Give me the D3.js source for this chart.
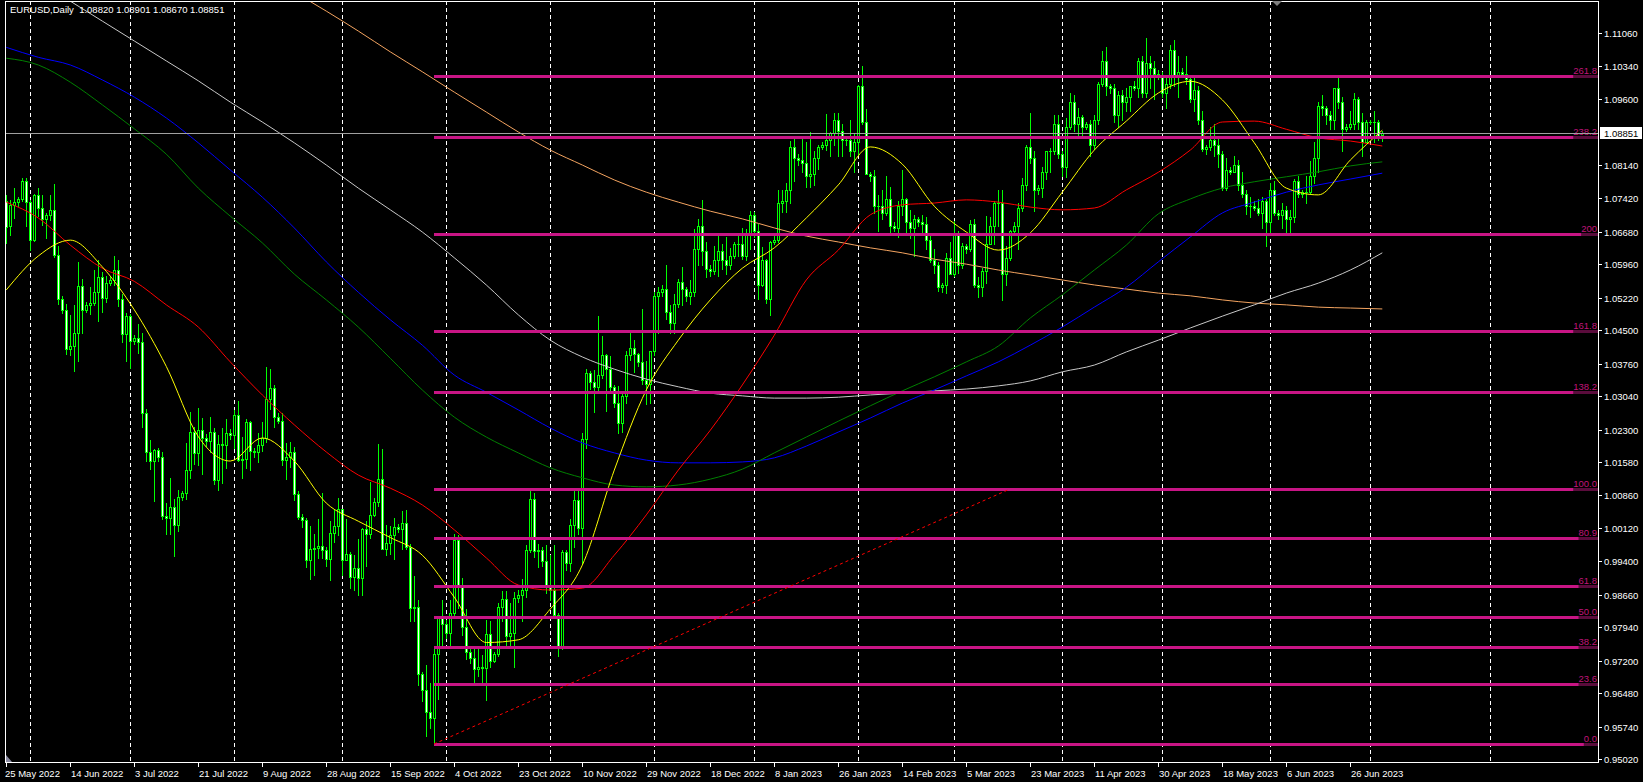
<!DOCTYPE html>
<html>
<head>
<meta charset="utf-8">
<script src="https://cdn.jsdelivr.net/npm/d3@7"></script>
<style>
html, body { margin: 0; padding: 0; background: #000; }
svg { display: block; }
text { font-family: "Liberation Sans", Arial, sans-serif; font-size: 9.5px; }
</style>
</head>
<body>
<svg id="chart" width="1643" height="782"></svg>
<script>
// EURUSD daily chart, 25 May 2022 - 5 Jul 2023 (broker feed with short Sunday bars)
const chartTitle = "EURUSD,Daily  1.08820 1.08901 1.08670 1.08851";
const firstDay = "2022-05-25", lastDay = "2023-07-05", axisEndDay = "2023-08-10";
const missingDays = ["2022-06-05", "2022-12-25", "2023-01-01", "2023-06-18"];

// [open, high, low, close], one line per week
const bars = [
  [1.0735,1.0749,1.0642,1.0679],[1.0680,1.0738,1.0661,1.0727],[1.0727,1.0765,1.0699,1.0733],
  [1.0733,1.0744,1.0725,1.0740],[1.0740,1.0787,1.0736,1.0779],[1.0779,1.0786,1.0681,1.0733],[1.0733,1.0737,1.0627,1.0650],[1.0650,1.0750,1.0648,1.0749],[1.0749,1.0764,1.0703,1.0719],
  [1.0719,1.0749,1.0683,1.0696],[1.0696,1.0710,1.0653,1.0704],[1.0704,1.0749,1.0693,1.0715],[1.0715,1.0773,1.0612,1.0616],[1.0616,1.0635,1.0507,1.0519],
  [1.0519,1.0525,1.0487,1.0495],[1.0495,1.0509,1.0398,1.0409],[1.0409,1.0484,1.0396,1.0415],[1.0415,1.0505,1.0359,1.0444],[1.0444,1.0601,1.0382,1.0547],[1.0547,1.0564,1.0444,1.0495],
  [1.0495,1.0512,1.0490,1.0505],[1.0505,1.0545,1.0485,1.0510],[1.0510,1.0583,1.0505,1.0535],[1.0535,1.0606,1.0470,1.0567],[1.0567,1.0579,1.0490,1.0521],[1.0521,1.0570,1.0512,1.0554],
  [1.0554,1.0570,1.0550,1.0562],[1.0562,1.0615,1.0549,1.0583],[1.0583,1.0606,1.0503,1.0518],[1.0518,1.0530,1.0423,1.0442],[1.0442,1.0488,1.0382,1.0482],[1.0482,1.0486,1.0366,1.0426],
  [1.0426,1.0440,1.0420,1.0432],[1.0432,1.0463,1.0399,1.0424],[1.0424,1.0443,1.0236,1.0266],[1.0266,1.0277,1.0161,1.0182],[1.0182,1.0208,1.0144,1.0162],[1.0162,1.0188,1.0072,1.0185],
  [1.0185,1.0189,1.0160,1.0170],[1.0170,1.0180,1.0033,1.0039],[1.0039,1.0069,0.9999,1.0035],[1.0035,1.0123,0.9999,1.0059],[1.0059,1.0077,0.9952,1.0019],[1.0019,1.0097,1.0006,1.0082],
  [1.0082,1.0095,1.0075,1.0090],[1.0090,1.0200,1.0076,1.0141],[1.0141,1.0269,1.0124,1.0226],[1.0226,1.0236,1.0155,1.0179],[1.0179,1.0278,1.0153,1.0229],[1.0229,1.0256,1.0132,1.0212],
  [1.0212,1.0220,1.0195,1.0205],[1.0205,1.0258,1.0180,1.0225],[1.0225,1.0234,1.0111,1.0120],[1.0120,1.0218,1.0096,1.0199],[1.0199,1.0235,1.0113,1.0197],[1.0197,1.0254,1.0145,1.0224],
  [1.0224,1.0232,1.0210,1.0218],[1.0218,1.0274,1.0190,1.0262],[1.0262,1.0294,1.0162,1.0163],[1.0163,1.0213,1.0123,1.0165],[1.0165,1.0254,1.0146,1.0247],[1.0247,1.0249,1.0141,1.0183],
  [1.0183,1.0190,1.0170,1.0180],[1.0180,1.0223,1.0158,1.0196],[1.0196,1.0248,1.0184,1.0212],[1.0212,1.0368,1.0202,1.0298],[1.0298,1.0364,1.0276,1.0322],[1.0322,1.0329,1.0236,1.0259],
  [1.0259,1.0268,1.0245,1.0250],[1.0250,1.0267,1.0152,1.0163],[1.0163,1.0201,1.0122,1.0170],[1.0170,1.0202,1.0148,1.0181],[1.0181,1.0191,1.0075,1.0088],[1.0088,1.0095,1.0032,1.0037],
  [1.0037,1.0045,1.0015,1.0030],[1.0030,1.0035,0.9926,0.9943],[0.9943,1.0017,0.9901,0.9967],[0.9967,0.9999,0.9909,0.9968],[0.9968,1.0033,0.9947,0.9974],[0.9974,1.0090,0.9947,0.9964],
  [0.9964,0.9970,0.9930,0.9945],[0.9945,1.0028,0.9899,1.0003],[1.0003,1.0055,0.9981,1.0017],[1.0017,1.0079,0.9997,1.0054],[1.0054,1.0055,0.9910,0.9943],[0.9943,1.0033,0.9942,0.9955],
  [0.9955,0.9960,0.9880,0.9905],[0.9905,0.9954,0.9877,0.9925],[0.9925,0.9988,0.9864,0.9902],[0.9902,1.0012,0.9864,1.0010],[1.0010,1.0029,0.9929,1.0000],[1.0000,1.0114,0.9990,1.0041],
  [1.0041,1.0080,1.0040,1.0070],[1.0070,1.0198,1.0061,1.0121],[1.0121,1.0187,0.9966,0.9967],[0.9967,1.0020,0.9954,0.9980],[0.9980,1.0017,0.9955,0.9998],[0.9998,1.0036,0.9945,1.0015],
  [1.0015,1.0022,1.0005,1.0010],[1.0010,1.0050,0.9966,1.0025],[1.0025,1.0052,0.9966,0.9971],[0.9971,0.9977,0.9807,0.9836],[0.9836,0.9908,0.9808,0.9838],[0.9838,0.9853,0.9667,0.9690],
  [0.9690,0.9695,0.9630,0.9655],[0.9655,0.9710,0.9553,0.9606],[0.9606,0.9671,0.9571,0.9593],[0.9593,0.9748,0.9536,0.9735],[0.9735,0.9815,0.9636,0.9815],[0.9815,0.9854,0.9748,0.9802],
  [0.9802,0.9810,0.9770,0.9780],[0.9780,0.9853,0.9750,0.9825],[0.9825,0.9999,0.9815,0.9986],[0.9986,0.9998,0.9836,0.9883],[0.9883,0.9903,0.9776,0.9794],[0.9794,0.9835,0.9723,0.9740],
  [0.9740,0.9745,0.9715,0.9725],[0.9725,0.9750,0.9670,0.9701],[0.9701,0.9752,0.9685,0.9706],[0.9706,0.9733,0.9668,0.9703],[0.9703,0.9810,0.9632,0.9779],[0.9779,0.9807,0.9707,0.9720],
  [0.9720,0.9740,0.9718,0.9735],[0.9735,0.9848,0.9731,0.9839],[0.9839,0.9874,0.9808,0.9857],[0.9857,0.9873,0.9755,0.9774],[0.9774,0.9847,0.9752,0.9781],[0.9781,0.9871,0.9705,0.9858],
  [0.9858,0.9875,0.9850,0.9865],[0.9865,0.9900,0.9808,0.9876],[0.9876,0.9976,0.9860,0.9965],[0.9965,1.0094,0.9961,1.0078],[1.0078,1.0090,0.9950,0.9963],[0.9963,0.9977,0.9927,0.9965],
  [0.9965,0.9970,0.9930,0.9940],[0.9940,0.9976,0.9870,0.9883],[0.9883,0.9954,0.9855,0.9875],[0.9875,0.9976,0.9815,0.9820],[0.9820,0.9825,0.9730,0.9750],[0.9750,0.9965,0.9745,0.9960],
  [0.9960,0.9965,0.9920,0.9935],[0.9935,1.0034,0.9919,1.0020],[1.0020,1.0094,0.9971,1.0074],[1.0074,1.0096,1.0000,1.0012],[1.0012,1.0222,0.9935,1.0209],[1.0209,1.0364,1.0190,1.0356],
  [1.0356,1.0360,1.0320,1.0335],[1.0335,1.0362,1.0270,1.0325],[1.0325,1.0481,1.0315,1.0350],[1.0350,1.0438,1.0345,1.0395],[1.0395,1.0398,1.0272,1.0364],[1.0364,1.0393,1.0315,1.0325],
  [1.0325,1.0330,1.0280,1.0290],[1.0290,1.0327,1.0223,1.0244],[1.0244,1.0310,1.0226,1.0305],[1.0305,1.0403,1.0289,1.0396],[1.0396,1.0448,1.0385,1.0410],[1.0410,1.0429,1.0358,1.0398],
  [1.0398,1.0400,1.0370,1.0380],[1.0380,1.0497,1.0332,1.0340],[1.0340,1.0381,1.0288,1.0331],[1.0331,1.0405,1.0290,1.0405],[1.0405,1.0534,1.0395,1.0525],[1.0525,1.0545,1.0444,1.0535],
  [1.0535,1.0550,1.0525,1.0540],[1.0540,1.0595,1.0475,1.0490],[1.0490,1.0505,1.0443,1.0466],[1.0466,1.0531,1.0443,1.0507],[1.0507,1.0564,1.0501,1.0556],[1.0556,1.0589,1.0505,1.0540],
  [1.0540,1.0545,1.0515,1.0525],[1.0525,1.0560,1.0509,1.0535],[1.0535,1.0674,1.0525,1.0630],[1.0630,1.0695,1.0595,1.0680],[1.0680,1.0737,1.0595,1.0625],[1.0625,1.0646,1.0568,1.0585],
  [1.0585,1.0595,1.0570,1.0580],[1.0580,1.0636,1.0575,1.0605],[1.0605,1.0659,1.0570,1.0625],[1.0625,1.0640,1.0586,1.0605],[1.0605,1.0657,1.0574,1.0595],[1.0595,1.0632,1.0585,1.0615],
  [1.0615,1.0645,1.0610,1.0640],[1.0640,1.0660,1.0613,1.0640],[1.0640,1.0675,1.0608,1.0613],[1.0613,1.0673,1.0606,1.0660],[1.0660,1.0713,1.0630,1.0705],
  [1.0705,1.0712,1.0655,1.0670],[1.0670,1.0684,1.0520,1.0550],[1.0550,1.0634,1.0547,1.0605],[1.0605,1.0607,1.0510,1.0520],[1.0520,1.0647,1.0483,1.0645],
  [1.0645,1.0660,1.0640,1.0650],[1.0650,1.0760,1.0645,1.0730],[1.0730,1.0760,1.0712,1.0735],[1.0735,1.0776,1.0712,1.0760],[1.0760,1.0868,1.0730,1.0855],[1.0855,1.0875,1.0780,1.0830],
  [1.0830,1.0840,1.0815,1.0825],[1.0825,1.0873,1.0800,1.0820],[1.0820,1.0866,1.0766,1.0790],[1.0790,1.0887,1.0766,1.0795],[1.0795,1.0845,1.0770,1.0830],[1.0830,1.0860,1.0806,1.0855],
  [1.0855,1.0865,1.0850,1.0860],[1.0860,1.0927,1.0848,1.0870],[1.0870,1.0888,1.0835,1.0885],[1.0885,1.0929,1.0860,1.0915],[1.0915,1.0930,1.0835,1.0890],[1.0890,1.0905,1.0836,1.0870],
  [1.0870,1.0880,1.0860,1.0870],[1.0870,1.0914,1.0835,1.0845],[1.0845,1.0883,1.0800,1.0865],[1.0865,1.0992,1.0837,1.0990],[1.0990,1.1033,1.0905,1.0910],[1.0910,1.0938,1.0795,1.0795],
  [1.0795,1.0800,1.0780,1.0790],[1.0790,1.0805,1.0709,1.0725],[1.0725,1.0748,1.0670,1.0725],[1.0725,1.0760,1.0696,1.0710],[1.0710,1.0790,1.0705,1.0740],[1.0740,1.0766,1.0660,1.0680],
  [1.0680,1.0690,1.0670,1.0675],[1.0675,1.0735,1.0655,1.0725],[1.0725,1.0805,1.0705,1.0740],[1.0740,1.0743,1.0660,1.0690],[1.0690,1.0715,1.0653,1.0675],[1.0675,1.0705,1.0613,1.0695],
  [1.0695,1.0700,1.0680,1.0690],[1.0690,1.0705,1.0660,1.0685],[1.0685,1.0700,1.0630,1.0650],[1.0650,1.0663,1.0600,1.0605],[1.0605,1.0630,1.0577,1.0595],[1.0595,1.0601,1.0536,1.0545],
  [1.0545,1.0555,1.0535,1.0550],[1.0550,1.0621,1.0533,1.0610],[1.0610,1.0645,1.0574,1.0575],[1.0575,1.0691,1.0570,1.0665],[1.0665,1.0669,1.0577,1.0595],[1.0595,1.0643,1.0588,1.0635],
  [1.0635,1.0640,1.0620,1.0630],[1.0630,1.0694,1.0625,1.0685],[1.0685,1.0695,1.0546,1.0550],[1.0550,1.0568,1.0524,1.0545],[1.0545,1.0588,1.0526,1.0580],[1.0580,1.0702,1.0555,1.0640],
  [1.0640,1.0700,1.0640,1.0680],[1.0680,1.0736,1.0640,1.0730],[1.0730,1.0759,1.0680,1.0730],[1.0730,1.0760,1.0516,1.0575],[1.0575,1.0635,1.0550,1.0610],[1.0610,1.0672,1.0605,1.0670],
  [1.0670,1.0690,1.0660,1.0680],[1.0680,1.0730,1.0630,1.0720],[1.0720,1.0786,1.0714,1.0770],[1.0770,1.0860,1.0760,1.0855],[1.0855,1.0930,1.0820,1.0830],[1.0830,1.0846,1.0713,1.0760],
  [1.0760,1.0770,1.0750,1.0765],[1.0765,1.0810,1.0745,1.0800],[1.0800,1.0847,1.0785,1.0845],[1.0845,1.0853,1.0800,1.0845],[1.0845,1.0925,1.0840,1.0905],[1.0905,1.0925,1.0830,1.0840],
  [1.0840,1.0845,1.0790,1.0810],[1.0810,1.0918,1.0788,1.0900],[1.0900,1.0973,1.0895,1.0955],[1.0955,1.0970,1.0890,1.0905],[1.0905,1.0942,1.0880,1.0920],[1.0920,1.0925,1.0875,1.0900],
  [1.0900,1.0910,1.0895,1.0905],[1.0905,1.0915,1.0836,1.0860],[1.0860,1.0925,1.0850,1.0915],[1.0915,1.0998,1.0905,1.0995],[1.0995,1.1067,1.0990,1.1045],[1.1045,1.1075,1.0970,1.0990],
  [1.0990,1.0995,1.0975,1.0985],[1.0985,1.0995,1.0910,1.0925],[1.0925,1.0978,1.0900,1.0970],[1.0970,1.0980,1.0915,1.0955],[1.0955,1.0985,1.0935,1.0965],[1.0965,1.0990,1.0935,1.0990],
  [1.0990,1.1000,1.0980,1.0985],[1.0985,1.1051,1.0965,1.1045],[1.1045,1.1055,1.0965,1.0975],[1.0975,1.1095,1.0965,1.1040],[1.1040,1.1055,1.0985,1.1030],[1.1030,1.1045,1.0960,1.1015],
  [1.1015,1.1025,1.1005,1.1010],[1.1010,1.1020,1.0965,1.0975],[1.0975,1.1010,1.0942,1.0995],[1.0995,1.1080,1.0985,1.1070],[1.1070,1.1092,1.0990,1.1010],[1.1010,1.1055,1.0965,1.1020],
  [1.1020,1.1030,1.1010,1.1015],[1.1015,1.1055,1.0995,1.1005],[1.1005,1.1010,1.0955,1.0960],[1.0960,1.1010,1.0935,1.0980],[1.0980,1.0990,1.0905,1.0915],[1.0915,1.0935,1.0845,1.0850],
  [1.0850,1.0860,1.0840,1.0855],[1.0855,1.0900,1.0848,1.0870],[1.0870,1.0905,1.0835,1.0860],[1.0860,1.0875,1.0810,1.0840],[1.0840,1.0845,1.0760,1.0765],[1.0765,1.0830,1.0760,1.0805],
  [1.0805,1.0810,1.0795,1.0800],[1.0800,1.0835,1.0800,1.0815],[1.0815,1.0825,1.0760,1.0770],[1.0770,1.0800,1.0745,1.0750],[1.0750,1.0760,1.0707,1.0725],[1.0725,1.0745,1.0700,1.0725],
  [1.0725,1.0735,1.0715,1.0720],[1.0720,1.0740,1.0705,1.0710],[1.0710,1.0745,1.0675,1.0735],[1.0735,1.0740,1.0635,1.0690],[1.0690,1.0775,1.0665,1.0760],[1.0760,1.0780,1.0705,1.0710],
  [1.0710,1.0715,1.0695,1.0705],[1.0705,1.0730,1.0675,1.0715],[1.0715,1.0725,1.0668,1.0695],[1.0695,1.0715,1.0665,1.0700],[1.0700,1.0785,1.0690,1.0780],[1.0780,1.0790,1.0745,1.0750],
  [1.0750,1.0760,1.0745,1.0755],[1.0755,1.0790,1.0730,1.0755],[1.0755,1.0823,1.0750,1.0790],[1.0790,1.0865,1.0775,1.0830],[1.0830,1.0955,1.0800,1.0945],[1.0945,1.0970,1.0925,1.0940],
  [1.0940,1.0945,1.0905,1.0925],[1.0925,1.0935,1.0895,1.0915],[1.0915,1.0985,1.0895,1.0985],[1.0985,1.1012,1.0940,1.0955],[1.0955,1.0965,1.0845,1.0895],
  [1.0895,1.0905,1.0890,1.0900],[1.0900,1.0935,1.0895,1.0905],[1.0905,1.0975,1.0895,1.0960],[1.0960,1.0965,1.0895,1.0910],[1.0910,1.0930,1.0835,1.0865],[1.0865,1.0915,1.0865,1.0910],
  [1.0910,1.0915,1.0905,1.0910],[1.0910,1.0935,1.0865,1.0910],[1.0910,1.0915,1.0870,1.0880],[1.0882,1.0890,1.0867,1.0885]
];

// moving averages, one value every 8 bars
const maStep = 8;
const maYellow = [1.0539,1.0614,1.0649,1.0590,1.0495,1.0370,1.0215,1.0161,1.0212,1.0161,1.0068,1.0028,0.9992,0.9953,0.9860,0.9760,0.9766,0.9834,0.9931,1.0141,1.0318,1.0428,1.0517,1.0587,1.0632,1.0698,1.0771,1.0855,1.0817,1.0724,1.0667,1.0627,1.0665,1.0755,1.0848,1.0912,1.0974,1.1000,1.0959,1.0864,1.0764,1.0749,1.0826,1.0892];
const maRed = [1.0733,1.0698,1.0638,1.0587,1.0558,1.0506,1.0457,1.0380,1.0307,1.0241,1.0181,1.0130,1.0101,1.0064,1.0009,0.9947,0.9887,0.9876,0.9880,0.9953,1.0042,1.0141,1.0229,1.0329,1.0439,1.0561,1.0627,1.0705,1.0727,1.0731,1.0738,1.0733,1.0722,1.0716,1.0720,1.0760,1.0799,1.0848,1.0910,1.0912,1.0894,1.0875,1.0868,1.0857];
const maGreen = [1.1051,1.1036,1.0998,1.0948,1.0895,1.0839,1.0764,1.0702,1.0643,1.0574,1.0517,1.0457,1.0388,1.0318,1.0258,1.0214,1.0179,1.0146,1.0124,1.0108,1.0104,1.0108,1.0121,1.0143,1.0179,1.0214,1.0249,1.0283,1.0316,1.0347,1.0380,1.0415,1.0477,1.0528,1.0583,1.0638,1.0707,1.0740,1.0764,1.0778,1.0789,1.0800,1.0813,1.0822];
const maBlue = [1.1075,1.1053,1.1036,1.1003,1.0965,1.0919,1.0864,1.0804,1.0744,1.0676,1.0601,1.0534,1.0473,1.0417,1.0351,1.0313,1.0274,1.0234,1.0201,1.0179,1.0163,1.0157,1.0157,1.0159,1.0168,1.0194,1.0225,1.0256,1.0289,1.0318,1.0349,1.0380,1.0417,1.0457,1.0501,1.0545,1.0601,1.0656,1.0709,1.0733,1.0755,1.0771,1.0784,1.0797];
const whiteFrom = 16;
const maWhite = [1.1177,1.1133,1.1089,1.1045,1.1001,1.0954,1.0910,1.0864,1.0815,1.0764,1.0716,1.0667,1.0610,1.0550,1.0484,1.0428,1.0391,1.0364,1.0342,1.0325,1.0311,1.0305,1.0300,1.0300,1.0302,1.0307,1.0311,1.0316,1.0320,1.0327,1.0338,1.0358,1.0373,1.0402,1.0428,1.0455,1.0481,1.0506,1.0532,1.0554,1.0583,1.0621];
const orangeFrom = 72;
const maOrange = [1.1197,1.1155,1.1111,1.1065,1.1021,1.0976,1.0932,1.0888,1.0848,1.0815,1.0782,1.0755,1.0733,1.0713,1.0696,1.0676,1.0658,1.0645,1.0632,1.0621,1.0607,1.0596,1.0583,1.0572,1.0561,1.0550,1.0541,1.0532,1.0526,1.0517,1.0510,1.0506,1.0501,1.0499,1.0497];

// Fibonacci retracement object
const fibLow = 0.95357, fibHigh = 1.00992;
const fibStartDay = "2022-09-28", fibEndDay = "2023-03-17";
const fibLevels = [0, 23.6, 38.2, 50, 61.8, 80.9, 100, 138.2, 161.8, 200, 238.2, 261.8];
const fibLabels = ["0.0", "23.6", "38.2", "50.0", "61.8", "80.9", "100.0", "138.2", "161.8", "200", "238.2", "261.8"];

const bidPrice = 1.08851;
const priceTicks = [1.11060, 1.10340, 1.09600, 1.08140, 1.07420, 1.06680, 1.05960, 1.05220, 1.04500, 1.03760, 1.03040, 1.02300, 1.01580, 1.00860, 1.00120, 0.99400, 0.98660, 0.97940, 0.97200, 0.96480, 0.95740, 0.95020];
const timeTicks = ["2022-05-25", "2022-06-14", "2022-07-03", "2022-07-21", "2022-08-09", "2022-08-28", "2022-09-15", "2022-10-04", "2022-10-23", "2022-11-10", "2022-11-29", "2022-12-18", "2023-01-08", "2023-01-26", "2023-02-14", "2023-03-05", "2023-03-23", "2023-04-11", "2023-04-30", "2023-05-18", "2023-06-06", "2023-06-26"];


// build the bar calendar: no Saturdays, a few missing days; after the last bar MT4 counts every day
const parseDay = d3.timeParse("%Y-%m-%d"), keyOf = d3.timeFormat("%Y-%m-%d");
const days = [];
for (let d = parseDay(firstDay); d <= parseDay(lastDay); d = d3.timeDay.offset(d, 1)) {
	if (d.getDay() === 6 || missingDays.includes(keyOf(d))) continue;
	days.push(keyOf(d));
}
for (let d = d3.timeDay.offset(parseDay(lastDay), 1); d <= parseDay(axisEndDay); d = d3.timeDay.offset(d, 1)) {
	days.push(keyOf(d));
}
const dayIndex = new Map(days.map((k, i) => [k, i]));

const W = 1643, H = 782;
const plot = { left: 5, right: 1598, top: 1, bottom: 762 };

// 4 px per bar, price scale fixed like the terminal's
const x = d3.scaleLinear().domain([0, 1]).range([6.3, 10.3]);
const y = d3.scaleLinear().domain([0.9502, 1.1106]).range([759.3, 33.3]);
const px = i => Math.round(x(i));
const py = p => Math.round(y(p));

const svg = d3.select("#chart");
svg.append("rect").attr("width", W).attr("height", H).attr("fill", "#000");

svg.append("clipPath").attr("id", "plotClip")
	.append("rect")
	.attr("x", plot.left).attr("y", plot.top)
	.attr("width", plot.right - plot.left).attr("height", plot.bottom - plot.top);

const g = {
	grid: svg.append("g").attr("clip-path", "url(#plotClip)"),
	candles: svg.append("g").attr("clip-path", "url(#plotClip)").attr("shape-rendering", "crispEdges"),
	ma: svg.append("g").attr("clip-path", "url(#plotClip)"),
	objects: svg.append("g").attr("clip-path", "url(#plotClip)"),
	axes: svg.append("g")
};

// month separators (first bar of each month)
const monthStarts = days.map((k, i) => i).filter(i => i > 0 && days[i].slice(5, 7) !== days[i - 1].slice(5, 7));
g.grid.selectAll("line.month")
	.data(monthStarts)
	.join("line")
	.attr("class", "month")
	.attr("x1", i => px(i) + 0.5).attr("x2", i => px(i) + 0.5)
	.attr("y1", plot.top).attr("y2", plot.bottom)
	.attr("stroke", "#fff")
	.attr("stroke-dasharray", "4,3");

// candles
const candle = g.candles.selectAll("g.bar")
	.data(bars)
	.join("g")
	.attr("class", "bar")
	.attr("transform", (d, i) => "translate(" + px(i) + ",0)");

candle.append("rect")
	.attr("x", 0).attr("width", 1)
	.attr("y", d => py(d[1]))
	.attr("height", d => Math.max(1, py(d[2]) - py(d[1]) + 1))
	.attr("fill", "#00ff00");

candle.append("rect")
	.attr("x", -1).attr("width", 3)
	.attr("y", d => py(Math.max(d[0], d[3])))
	.attr("height", d => py(Math.min(d[0], d[3])) - py(Math.max(d[0], d[3])) + 1)
	.attr("fill", "#00ff00");

candle.filter(d => py(Math.min(d[0], d[3])) - py(Math.max(d[0], d[3])) >= 2)
	.append("rect")
	.attr("x", 0).attr("width", 1)
	.attr("y", d => py(Math.max(d[0], d[3])) + 1)
	.attr("height", d => py(Math.min(d[0], d[3])) - py(Math.max(d[0], d[3])) - 1)
	.attr("fill", d => d[3] >= d[0] ? "#000" : "#fff");

// moving averages
const maLines = [
	{ values: maOrange, from: orangeFrom, color: "#f4a460" },
	{ values: maWhite, from: whiteFrom, color: "#c8c8c8" },
	{ values: maBlue, from: 0, color: "#0000ff" },
	{ values: maGreen, from: 0, color: "#008000" },
	{ values: maRed, from: 0, color: "#ff0000" },
	{ values: maYellow, from: 0, color: "#ffff00" }
];
maLines.forEach(function(m) {
	const line = d3.line()
		.curve(d3.curveMonotoneX)
		.x((v, k) => x(m.from + k * maStep))
		.y(v => y(v));
	g.ma.append("path")
		.attr("d", line(m.values))
		.attr("fill", "none")
		.attr("stroke", m.color)
		.attr("stroke-width", 1);
});

// Fibonacci levels
const fibX0 = px(dayIndex.get(fibStartDay));
const fibRange = fibHigh - fibLow;
fibLevels.forEach(function(lvl, k) {
	const ly = py(fibLow + fibRange * lvl / 100);
	g.objects.append("line")
		.attr("x1", fibX0).attr("x2", plot.right)
		.attr("y1", ly + 0.5).attr("y2", ly + 0.5)
		.attr("stroke", "#c71585")
		.attr("stroke-width", 3);
	const label = g.objects.append("text")
		.attr("x", plot.right - 1).attr("y", ly - 2)
		.attr("text-anchor", "end")
		.attr("fill", "#c0147a")
		.text(fibLabels[k]);
	const w = label.node().getComputedTextLength();
	g.objects.append("rect")
		.attr("x", plot.right - 1 - w).attr("y", ly - 1)
		.attr("width", w + 1).attr("height", 3)
		.attr("fill", "#5a0c3c");
});

// fib base line (dotted red)
g.objects.append("line")
	.attr("x1", fibX0).attr("y1", py(fibLow))
	.attr("x2", px(dayIndex.get(fibEndDay))).attr("y2", py(fibHigh))
	.attr("stroke", "#ff0000")
	.attr("stroke-dasharray", "3,3");

// bid line
g.objects.append("line")
	.attr("x1", plot.left).attr("x2", plot.right)
	.attr("y1", py(bidPrice) + 0.5).attr("y2", py(bidPrice) + 0.5)
	.attr("stroke", "#a0a0a0");

// frame
g.axes.append("rect")
	.attr("x", plot.left + 0.5).attr("y", plot.top + 0.5)
	.attr("width", plot.right - plot.left).attr("height", plot.bottom - plot.top)
	.attr("fill", "none")
	.attr("stroke", "#fff");

// price axis
g.axes.selectAll("line.ptick")
	.data(priceTicks)
	.join("line")
	.attr("class", "ptick")
	.attr("x1", plot.right).attr("x2", plot.right + 4)
	.attr("y1", p => py(p) + 0.5).attr("y2", p => py(p) + 0.5)
	.attr("stroke", "#fff");

g.axes.selectAll("text.plabel")
	.data(priceTicks)
	.join("text")
	.attr("class", "plabel")
	.attr("x", plot.right + 6)
	.attr("y", p => py(p) + 4)
	.attr("fill", "#fff")
	.text(p => p.toFixed(5));

g.axes.append("rect")
	.attr("x", plot.right + 2).attr("y", py(bidPrice) - 6)
	.attr("width", 42).attr("height", 12)
	.attr("fill", "#fff");
g.axes.append("text")
	.attr("x", plot.right + 6).attr("y", py(bidPrice) + 4)
	.attr("fill", "#000")
	.text(bidPrice.toFixed(5));

// time axis
const dateLabel = d3.timeFormat("%-d %b %Y");
g.axes.selectAll("line.ttick")
	.data(timeTicks)
	.join("line")
	.attr("class", "ttick")
	.attr("x1", k => px(dayIndex.get(k)) + 0.5).attr("x2", k => px(dayIndex.get(k)) + 0.5)
	.attr("y1", plot.bottom).attr("y2", plot.bottom + 5)
	.attr("stroke", "#fff");

g.axes.selectAll("text.tlabel")
	.data(timeTicks)
	.join("text")
	.attr("class", "tlabel")
	.attr("x", (k, i) => i === 0 ? plot.left : px(dayIndex.get(k)) + 1)
	.attr("y", 777)
	.attr("fill", "#fff")
	.text(k => dateLabel(parseDay(k)));

// title
g.axes.append("text")
	.attr("x", 10).attr("y", 13)
	.attr("fill", "#fff")
	.attr("xml:space", "preserve")
	.style("white-space", "pre")
	.text(chartTitle);

// chart shift marker and corner marker
g.axes.append("path").attr("d", "M1272,1L1282,1L1277,6Z").attr("fill", "#808080");
g.axes.append("path").attr("d", "M6,755L6,762L12,762Z").attr("fill", "#8a8aa0");
</script>
</body>
</html>
